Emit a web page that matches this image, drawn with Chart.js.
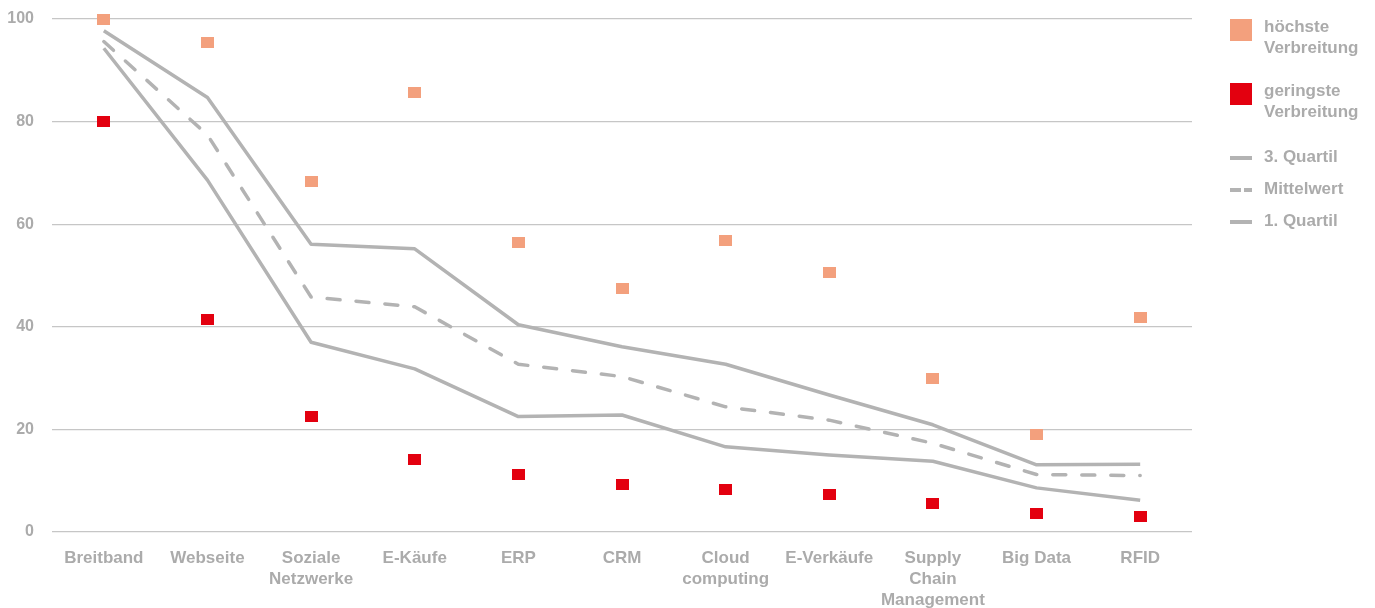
<!DOCTYPE html>
<html>
<head>
<meta charset="utf-8">
<script src="https://cdn.jsdelivr.net/npm/chart.js@4"></script>
<style>
  html, body { margin: 0; padding: 0; background: #fff; }
  #wrap { position: relative; width: 1375px; height: 608px; }
  #legend { position: absolute; left: 1230px; top: 0; font: bold 17px "Liberation Sans", Arial, sans-serif; color: #ABABAB; }
  .item { position: absolute; left: 0; white-space: nowrap; }
  .sw { position: absolute; left: 0; }
  .txt { position: absolute; left: 34px; line-height: 20px; }
</style>
</head>
<body>
<div id="wrap">
  <canvas id="myChart" width="1375" height="608"></canvas>
  <div id="legend"></div>
</div>
<script>
var categories = ["Breitband", "Webseite", ["Soziale", "Netzwerke"], "E-Käufe", "ERP", "CRM",
  ["Cloud", "computing"], "E-Verkäufe", ["Supply", "Chain", "Management"], "Big Data", "RFID"];
var hoechste = [100, 95.5, 68.4, 85.6, 56.5, 47.4, 56.9, 50.5, 30.0, 19.1, 41.9];
var geringste = [80.1, 41.5, 22.6, 14.2, 11.3, 9.2, 8.2, 7.4, 5.5, 3.7, 3.1];
var quartil3 = [97.7, 84.7, 56.1, 55.2, 40.4, 36.1, 32.7, 26.7, 20.9, 13.1, 13.2];
var mittelwert = [95.6, 77.4, 45.8, 43.9, 32.7, 30.3, 24.4, 21.8, 17.3, 11.2, 11.0];
var quartil1 = [94.3, 68.6, 37.0, 31.8, 22.5, 22.8, 16.6, 15.0, 13.8, 8.6, 6.2];
var yTicks = [0, 20, 40, 60, 80, 100];

var salmon = "#F3A07D";
var red = "#E3000F";
var gray = "#B3B3B3";
var textGray = "#ABABAB";

function square(color) {
    var c = document.createElement("canvas");
    c.width = 13;
    c.height = 11;
    var g = c.getContext("2d");
    g.fillStyle = color;
    g.fillRect(0, 0, 13, 11);
    return c;
}

function lineSet(label, data, dash) {
    return {
        label: label,
        data: data,
        borderColor: gray,
        borderWidth: 3.5,
        borderDash: dash,
        borderCapStyle: dash.length ? "round" : "butt",
        borderJoinStyle: "round",
        pointRadius: 0,
        tension: 0,
        fill: false,
        clip: false
    };
}

Chart.defaults.font.family = '"Liberation Sans", Arial, sans-serif';
Chart.defaults.font.weight = "bold";
Chart.defaults.font.size = 16;
Chart.defaults.color = textGray;

var ctx = document.getElementById("myChart").getContext("2d");
var myChart = new Chart(ctx, {
    type: "line",
    data: {
        labels: categories,
        datasets: [{
                label: "höchste Verbreitung",
                data: hoechste,
                showLine: false,
                pointStyle: square(salmon),
                pointBackgroundColor: salmon,
                clip: false
            }, {
                label: "geringste Verbreitung",
                data: geringste,
                showLine: false,
                pointStyle: square(red),
                pointBackgroundColor: red,
                clip: false
            },
            lineSet("3. Quartil", quartil3, []),
            lineSet("Mittelwert", mittelwert, [13, 16]),
            lineSet("1. Quartil", quartil1, [])
        ]
    },
    options: {
        responsive: false,
        animation: false,
        layout: { padding: { top: 19, right: 183, left: 0, bottom: 0 } },
        plugins: {
            legend: { display: false },
            tooltip: { enabled: false }
        },
        scales: {
            x: {
                offset: true,
                grid: { display: false },
                border: { display: false },
                ticks: {
                    padding: 8, maxRotation: 0, autoSkip: false, color: textGray,
                    font: { size: 17, lineHeight: 1.24 }
                },
                afterFit: function (scale) { scale.height = 76; }
            },
            y: {
                min: 0,
                max: 100,
                afterBuildTicks: function (scale) {
                    scale.ticks = yTicks.map(function (v) { return { value: v }; });
                },
                grid: { color: "#C6C6C6", lineWidth: 1.2, drawTicks: false },
                border: { display: false },
                ticks: { padding: 18, color: textGray },
                afterFit: function (scale) {
                    scale.width = 52;
                    scale.paddingTop = 0;
                    scale.paddingBottom = 0;
                }
            }
        }
    }
});

// legend as html
var legendItems = [
    { type: "box", color: salmon, top: 19, lines: ["höchste", "Verbreitung"], textTop: 16 },
    { type: "box", color: red, top: 83, lines: ["geringste", "Verbreitung"], textTop: 80 },
    { type: "line", top: 158, lines: ["3. Quartil"] },
    { type: "dash", top: 190, lines: ["Mittelwert"] },
    { type: "line", top: 222, lines: ["1. Quartil"] }
];
var legend = document.getElementById("legend");
legendItems.forEach(function (it) {
    var el = document.createElement("div");
    el.className = "item";
    var html = "";
    if (it.type === "box") {
        html += '<div class="sw" style="top:' + it.top + 'px;width:22px;height:22px;background:' + it.color + '"></div>';
        html += '<div class="txt" style="top:' + it.textTop + 'px;line-height:21px">' + it.lines.join("<br>") + '</div>';
    } else if (it.type === "line") {
        html += '<div class="sw" style="top:' + (it.top - 2) + 'px;width:22px;height:4px;background:' + gray + '"></div>';
        html += '<div class="txt" style="top:' + (it.top - 11) + 'px">' + it.lines[0] + '</div>';
    } else {
        html += '<div class="sw" style="top:' + (it.top - 2) + 'px;width:11px;height:4px;background:' + gray + '"></div>';
        html += '<div class="sw" style="left:14px;top:' + (it.top - 2) + 'px;width:8px;height:4px;background:' + gray + '"></div>';
        html += '<div class="txt" style="top:' + (it.top - 11) + 'px">' + it.lines[0] + '</div>';
    }
    el.innerHTML = html;
    legend.appendChild(el);
});
</script>
</body>
</html>
